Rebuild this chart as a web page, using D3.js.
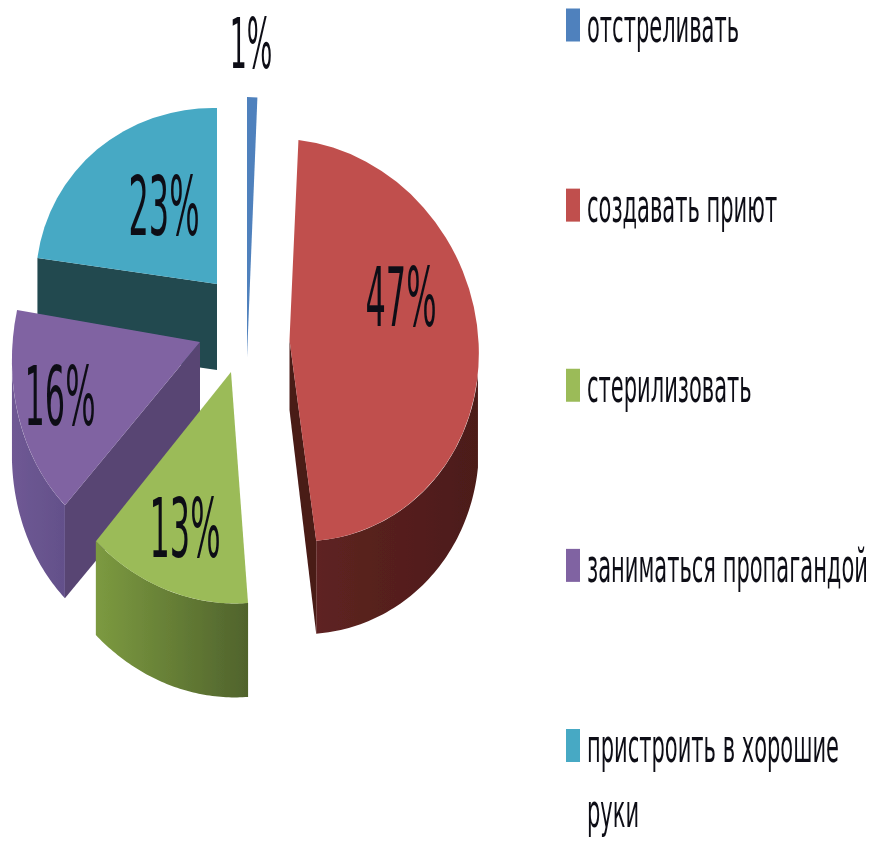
<!DOCTYPE html>
<html><head><meta charset="utf-8">
<script src="https://cdn.jsdelivr.net/npm/d3@7/dist/d3.min.js"></script>
<style>html,body{margin:0;padding:0;background:#fff}svg{display:block}text{font-family:"DejaVu Sans",sans-serif;fill:#111118}</style>
</head><body>
<svg id="c" width="873" height="846"></svg>
<script>
const categories = ["отстреливать","создавать приют","стерилизовать","заниматься пропагандой","пристроить в хорошие"];
const categoryContinuation = ["","","","","руки"];
const values = [1,47,13,16,23];
const valueLabels = ["1%","47%","13%","16%","23%"];
const colors = ["#4F81BD","#C0504D","#9BBB59","#8064A2","#46A9C4"];
const wallFill = [null,["#5e2321","#4c1b19"],["#7c9a40","#50632c"],["#6F5994","#63508A"],null];
const cutFill = [null,"#4a1a18",null,"#584573","#21484f"];
// projection of each exploded slice: x = cx + a sin + b cos ; y = cy + c sin - d cos
const geom = [
 {cx:247,cy:357,a:165,b:0,c:0,d:260,depth:0,apexDepth:0,wall:null,cut:null},
 {cx:289.5,cy:340,a:189.5,b:-3,c:10,d:201,depth:93,apexDepth:70,wall:[97,null],cut:"end"},
 {cx:231,cy:372,a:202,b:8.3,c:14,d:231,depth:94,apexDepth:94,wall:[null,null],cut:null},
 {cx:200,cy:342,a:187,b:20.6,c:5.1,d:216,depth:93,apexDepth:93,wall:[null,262],cut:"start"},
 {cx:217,cy:284,a:181,b:0,c:4,d:176,depth:86,apexDepth:86,wall:null,cut:"start"}
];
const labelAt = [[251,68],[401,326],[185,557],[60,425],[164,235]];
const labelScale = [0.84,1,1,1,1];
const legendX = 566, legendTextX = 587;

const svg = d3.select("#c");
const defs = svg.append("defs");
defs.append("filter").attr("id","soft").attr("x",-0.05).attr("y",-0.05).attr("width",1.1).attr("height",1.1)
  .append("feGaussianBlur").attr("stdDeviation",0.5);
const root = svg.append("g").attr("filter","url(#soft)");
root.append("rect").attr("width",873).attr("height",846).attr("fill","#fff");
const pie = d3.pie().sort(null).value(d=>d);
const arcs = pie(values);
const arcGen = d3.arc().innerRadius(0).outerRadius(1);
const line = d3.line();
const deg = Math.PI/180;
function pt(g,t){return [g.cx+g.a*Math.sin(t)+g.b*Math.cos(t), g.cy+g.c*Math.sin(t)-g.d*Math.cos(t)];}

wallFill.forEach((w,i)=>{
  if(!w) return;
  const lg = defs.append("linearGradient").attr("id","w"+i);
  lg.append("stop").attr("offset",0).attr("stop-color",w[0]);
  lg.append("stop").attr("offset",1).attr("stop-color",w[1]);
});

[4,3,2,1,0].forEach(i=>{
  const g = geom[i], s = arcs[i];
  const G = root.append("g");
  if(g.cut){
    const t = g.cut==="end"?s.endAngle:s.startAngle;
    const e = pt(g,t);
    G.append("path").attr("fill",cutFill[i])
      .attr("d",line([[g.cx,g.cy],e,[e[0],e[1]+g.depth],[g.cx,g.cy+g.apexDepth]])+"Z");
  }
  if(g.wall){
    const from = g.wall[0]==null?s.startAngle:g.wall[0]*deg;
    const to = g.wall[1]==null?s.endAngle:g.wall[1]*deg;
    const ts = d3.range(0,61).map(k=>from+(to-from)*k/60);
    const top = ts.map(t=>pt(g,t));
    const bot = top.slice().reverse().map(p=>[p[0],p[1]+g.depth]);
    G.append("path").attr("fill","url(#w"+i+")").attr("d",line(top.concat(bot))+"Z");
  }
  G.append("path").attr("fill",colors[i])
    .attr("transform",`matrix(${g.a},${g.c},${-g.b},${g.d},${g.cx},${g.cy})`)
    .attr("d",arcGen({startAngle:s.startAngle,endAngle:s.endAngle}));
});

function stretched(sel,x,y,sx,sy){sel.attr("transform",`translate(${x},${y}) scale(${sx},${sy})`);}
valueLabels.forEach((t,i)=>{
  root.append("text").text(t).attr("text-anchor","middle").attr("font-size",32*labelScale[i])
    .call(stretched,labelAt[i][0],labelAt[i][1],1,2.56);
});

const legendY = d3.scaleLinear().domain([0,4]).range([41.5,762]);
const legendFont = 20, legendSy = 2.3;
const probe = root.append("text").attr("font-size",legendFont).text(categories[3]);
const legendSx = 281/probe.node().getComputedTextLength();
probe.remove();
categories.forEach((t,i)=>{
  const y = legendY(i);
  root.append("rect").attr("x",legendX).attr("y",y-33).attr("width",14).attr("height",33).attr("fill",colors[i]);
  root.append("text").text(t).attr("font-size",legendFont).call(stretched,legendTextX,y,legendSx,legendSy);
  if(categoryContinuation[i]) root.append("text").text(categoryContinuation[i]).attr("font-size",legendFont).call(stretched,legendTextX,y+65,legendSx,legendSy);
});
</script>
</body></html>
